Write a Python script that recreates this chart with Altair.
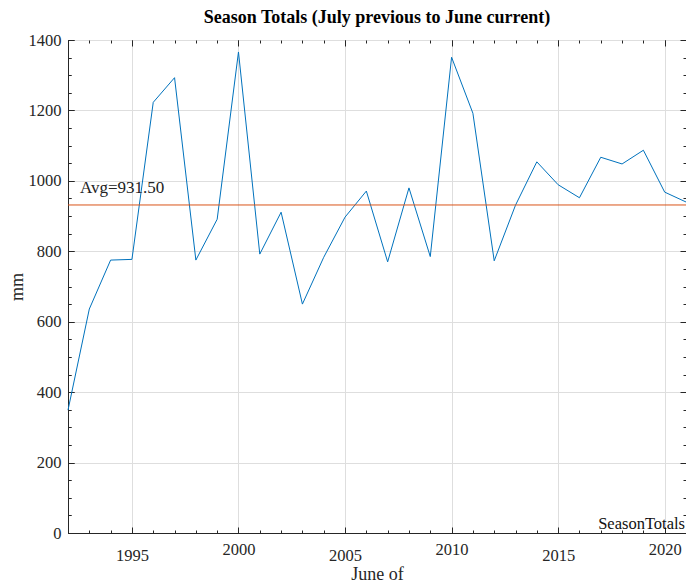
import altair as alt
import pandas as pd

years = list(range(1992, 2022))
season_totals = [349, 636, 775, 777, 1223, 1293, 775, 891, 1366, 792,
                 911, 650, 783, 897, 971, 770, 980, 785, 1351, 1192,
                 773, 931, 1054, 989, 952, 1067, 1048, 1087, 968, 940]
avg_value = 931.50
x_major = [1995, 2000, 2005, 2010, 2015, 2020]
y_major = list(range(0, 1401, 200))
y_minor = list(range(0, 1401, 50))

df = pd.DataFrame({"year": years, "value": season_totals})
avg_df = pd.DataFrame({"avg": [avg_value], "label": ["Avg=%.2f" % avg_value]})

FONT = "Liberation Serif"
AX = "#262626"
W, H = 618, 493

xs = alt.Scale(domain=[1992, 2021], nice=False, zero=False)
ys = alt.Scale(domain=[0, 1400], nice=False)

main_x = alt.Axis(orient="bottom", values=x_major, format="d", grid=True,
                  gridColor="#dedede", ticks=False, tickSize=0,
                  domainColor=AX, labelColor=AX, labelFont=FONT, labelFontSize=16.5,
                  labelPadding={"condition": {"test": "datum.value % 10 == 0", "value": 8}, "value": 14},
                  labelFlush=False, labelOverlap=False,
                  title="June of", titleFont=FONT, titleFontSize=18, titleFontWeight="normal",
                  titleColor=AX, titlePadding=2)
main_y = alt.Axis(orient="left", values=y_major, format="d", grid=True,
                  gridColor="#dedede", ticks=False, tickSize=0,
                  domainColor=AX, labelColor=AX, labelFont=FONT, labelFontSize=16.5,
                  labelPadding=7, labelFlush=False, labelOverlap=False,
                  title="mm", titleFont=FONT, titleFontSize=18, titleFontWeight="normal",
                  titleColor=AX, titlePadding=2)

line = alt.Chart(df).mark_line(color="#0072BD", strokeWidth=1).encode(
    x=alt.X("year:Q", scale=xs, axis=main_x),
    y=alt.Y("value:Q", scale=ys, axis=main_y),
)


def tick_axis(orient, values, size):
    return alt.Axis(orient=orient, values=values, offset=-size, tickSize=size,
                    tickColor=AX, tickWidth=1, labels=False, domain=False,
                    grid=False, title="")


def tick_layer(xo, xv, yo, yv, size):
    return alt.Chart(df).mark_point(opacity=0).encode(
        x=alt.X("year:Q", scale=xs, axis=tick_axis(xo, xv, size)),
        y=alt.Y("value:Q", scale=ys, axis=tick_axis(yo, yv, size)),
    )


avg_rule = alt.Chart(avg_df).mark_rule(color="#D95319", strokeWidth=1).encode(
    y=alt.Y("avg:Q", scale=ys, axis=tick_axis("left", y_major, 6)),
    x=alt.value(0), x2=alt.value(W),
)
avg_text = alt.Chart(avg_df).mark_text(
    align="left", baseline="alphabetic", font=FONT, fontSize=17, color="#222222", dy=-12
).encode(
    y=alt.Y("avg:Q", scale=ys, axis=tick_axis("left", y_minor, 3)),
    x=alt.value(12),
    text="label:N",
)
legend_text = alt.Chart(avg_df).mark_text(
    align="right", baseline="alphabetic", font=FONT, fontSize=16.5, color="#111111"
).encode(x=alt.value(W - 1), y=alt.value(H - 4), text=alt.value("SeasonTotals"))

chart = alt.layer(
    line,
    tick_layer("bottom", x_major, "right", y_major, 6),
    tick_layer("top", years, "right", y_minor, 3),
    tick_layer("top", x_major, "left", y_major, 6),
    tick_layer("bottom", years, "left", y_minor, 3),
    avg_rule,
    avg_text,
    legend_text,
).resolve_axis(x="independent", y="independent").properties(
    width=W, height=H,
    title=alt.TitleParams("Season Totals (July previous to June current)",
                          font=FONT, fontSize=18, fontWeight="bold", color="#000000",
                          anchor="middle", offset=5),
    autosize=alt.AutoSizeParams(type="none"),
    padding={"left": 60, "top": 32, "right": 0, "bottom": 56},
).configure_view(stroke=AX, strokeWidth=1).configure(background="white")

chart.save("out.html", embed_options={"renderer": "svg", "actions": False})
